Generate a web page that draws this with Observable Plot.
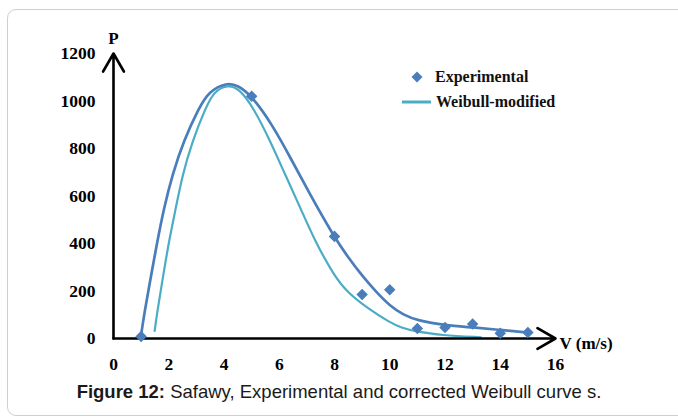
<!DOCTYPE html>
<html><head><meta charset="utf-8">
<script src="https://cdn.jsdelivr.net/npm/d3@7"></script>
<script src="https://cdn.jsdelivr.net/npm/@observablehq/plot@0.6"></script>
<style>
body{margin:0;background:#fff;width:678px;height:419px;overflow:hidden;position:relative;}
#frame{position:absolute;left:7px;top:9px;width:740px;height:407px;border:1.5px solid #cfcfcf;border-radius:9px;box-sizing:border-box;}
#chart{position:absolute;left:0;top:0;}
#legend{position:absolute;left:0;top:0;font-family:"Liberation Serif","Times New Roman",serif;font-weight:bold;font-size:16px;color:#111;}
.li{position:absolute;white-space:nowrap;line-height:20px;}
#caption{position:absolute;left:0;width:678px;top:381px;text-align:center;font-family:"Liberation Sans",Arial,sans-serif;font-size:18.5px;color:#1a1a1a;}
</style>
</head><body>
<div id="frame"></div>
<div id="chart"></div>
<div id="legend"></div>
<div id="caption"><b>Figure 12:</b> Safawy, Experimental and corrected Weibull curve s.</div>
<script>
// Experimental points
const V_exp = [1, 5, 8, 9, 10, 11, 12, 13, 14, 15];
const P_exp = [8, 1020, 430, 185, 205, 42, 46, 61, 22, 25];

const V_fit = [0.98, 1.12, 1.37, 1.58, 1.82, 2.13, 2.55, 3.09, 3.45, 4.1, 4.5, 4.99, 5.75, 6.41, 7.08, 7.96, 8.5, 9, 9.5, 10, 10.5, 11, 12, 13, 14, 15];
const P_fit = [0, 110, 270, 405, 546, 690, 835, 970, 1040, 1078, 1066, 1024, 900, 760, 614, 433, 340, 264, 197, 138, 99, 76, 55, 47, 36, 25];

// Weibull-modified curve
const V_wm = [1.49, 1.58, 1.8, 2.0, 2.25, 2.49, 2.85, 3.33, 3.63, 4.12, 4.54, 5.08, 5.69, 6.23, 6.78, 7.26, 7.98, 8.47, 9.19, 10, 10.4, 11, 11.85, 13.3];
const P_wm = [32, 110, 265, 405, 546, 686, 830, 970, 1040, 1068, 1054, 970, 827, 686, 546, 418, 265, 194, 128, 68, 46, 28, 14, 5];

const xTicks = [0, 2, 4, 6, 8, 10, 12, 14, 16];
const yTicks = [0, 200, 400, 600, 800, 1000, 1200];

const seriesNames = ["Experimental", "Weibull-modified"];
const cExp = "#4A7EBB", cWm = "#4BACC6";

const expData = V_exp.map((v, i) => ({V: v, P: P_exp[i]}));
const fitData = V_fit.map((v, i) => ({V: v, P: P_fit[i]}));
const wmData = V_wm.map((v, i) => ({V: v, P: P_wm[i]}));

const xDom = [xTicks[0], xTicks[xTicks.length - 1]];
const yDom = [yTicks[0], yTicks[yTicks.length - 1]];
const axesData = [
  {x1: xDom[0], y1: yDom[0], x2: xDom[0], y2: yDom[1]},
  {x1: xDom[0], y1: yDom[0], x2: xDom[1], y2: yDom[0]}
];

const tickFont = {fontFamily: "Liberation Serif", fontWeight: "bold", fontSize: 17.5};

const chart = Plot.plot({
  width: 678, height: 375,
  marginLeft: 113, marginRight: 123, marginTop: 53, marginBottom: 37,
  x: {domain: xDom},
  y: {domain: yDom},
  style: {fontFamily: "Liberation Serif", color: "#000", background: "transparent", overflow: "visible"},
  marks: [
    Plot.axisX(xTicks, {tickSize: 0, tickPadding: 19, label: null, tickFormat: d => String(d), ...tickFont}),
    Plot.axisY(yTicks, {tickSize: 0, tickPadding: 18, label: null, tickFormat: d => String(d), ...tickFont}),
    Plot.line(wmData, {x: "V", y: "P", stroke: cWm, strokeWidth: 2.2, curve: "basis"}),
    Plot.line(fitData, {x: "V", y: "P", stroke: cExp, strokeWidth: 2.7, curve: "basis"}),
    Plot.arrow(axesData, {x1: "x1", y1: "y1", x2: "x2", y2: "y2", stroke: "#000", strokeWidth: 2.6, headLength: 12, headAngle: 60}),
    Plot.dot(expData, {x: "V", y: "P", symbol: "diamond2", r: 5.2, fill: cExp, stroke: "none"}),
    Plot.text(["P"], {x: xDom[0], y: yDom[1], dy: -15, text: d => d, ...tickFont, fontSize: 17}),
    Plot.text(["V (m/s)"], {x: xDom[1], y: yDom[0], dx: 4, dy: 5, textAnchor: "start", text: d => d, ...tickFont, fontSize: 17})
  ]
});
document.getElementById("chart").appendChild(chart);

const lg = document.getElementById("legend");
lg.innerHTML = `
<div class="li" style="left:409px;top:67px;"><svg width="16" height="20" style="vertical-align:top"><path d="M8,4.5L13.5,10L8,15.5L2.5,10Z" fill="${cExp}"/></svg><span style="position:absolute;left:26px;top:0">${seriesNames[0]}</span></div>
<div class="li" style="left:402px;top:92px;"><svg width="30" height="20" style="vertical-align:top"><line x1="0" y1="10" x2="29" y2="10" stroke="${cWm}" stroke-width="3"/></svg><span style="position:absolute;left:34px;top:0">${seriesNames[1]}</span></div>`;
</script>
</body></html>
